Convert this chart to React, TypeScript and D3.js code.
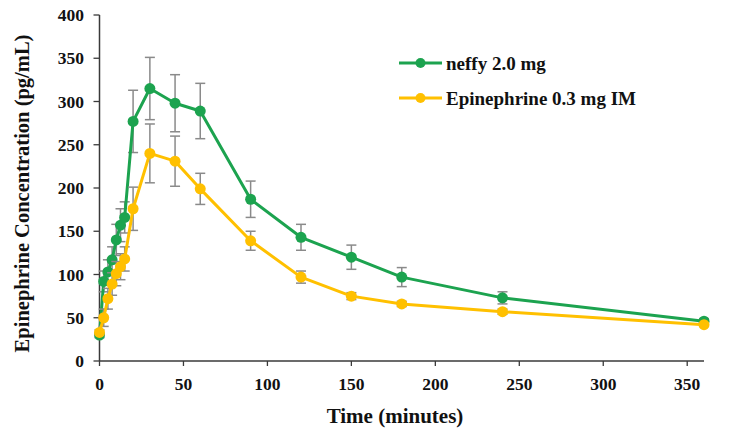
import React from "react";
import * as d3 from "d3";

// Sampling times (minutes)
const times = [0, 2.5, 5, 7.5, 10, 12.5, 15, 20, 30, 45, 60, 90, 120, 150, 180, 240, 360];
// neffy 2.0 mg: mean concentration and error (pg/mL)
const neffyMean = [30, 92, 103, 117, 140, 157, 166, 277, 315, 298, 289, 187, 143, 120, 97, 73, 46];
const neffyErr = [3, 12, 14, 15, 18, 19, 18, 36, 36, 33, 32, 21, 15, 14, 11, 7, 3];
// Epinephrine 0.3 mg IM: mean concentration and error (pg/mL)
const imMean = [33, 50, 72, 89, 101, 109, 118, 176, 240, 231, 199, 139, 97, 75, 66, 57, 42];
const imErr = [3, 10, 12, 13, 14, 15, 14, 25, 34, 29, 18, 11, 7, 4, 3, 3, 2];

const xTicks = [0, 50, 100, 150, 200, 250, 300, 350];
const yTicks = [0, 50, 100, 150, 200, 250, 300, 350, 400];

const seriesNames = ["neffy 2.0 mg", "Epinephrine 0.3 mg IM"];
const seriesColors = ["#1ca34f", "#ffc000"];

const W = 729;
const H = 429;
const FONT = "'Liberation Serif', 'Times New Roman', serif";

export default function App() {
  const x = d3.scaleLinear().domain([0, 360]).range([99.5, 704]);
  const y = d3.scaleLinear().domain([0, 400]).range([361, 15]);

  const series = [
    { name: seriesNames[0], color: seriesColors[0], mean: neffyMean, err: neffyErr },
    { name: seriesNames[1], color: seriesColors[1], mean: imMean, err: imErr },
  ];

  const line = d3
    .line<number>()
    .x((_, i) => x(times[i]))
    .y((d) => y(d));

  const axisColor = "#3a3a3a";
  const errColor = "#8a8a8a";
  const cap = 5;

  return (
    <div style={{ position: "fixed", left: 0, top: 0 }}>
      <svg width={W} height={H} style={{ display: "block", background: "#fff" }}>
        {/* y axis */}
        <line x1={x(0)} x2={x(0)} y1={y(400)} y2={y(0)} stroke={axisColor} strokeWidth={1.5} />
        {yTicks.map((t) => (
          <g key={"y" + t}>
            <line x1={x(0) - 6} x2={x(0)} y1={y(t)} y2={y(t)} stroke={axisColor} strokeWidth={1.3} />
            <text
              x={84}
              y={y(t)}
              dy="0.35em"
              textAnchor="end"
              fontFamily={FONT}
              fontWeight="bold"
              fontSize={17.5}
              fill="#111"
            >
              {t}
            </text>
          </g>
        ))}
        {/* x axis */}
        <line x1={x(0)} x2={x(360)} y1={y(0)} y2={y(0)} stroke={axisColor} strokeWidth={1.5} />
        {xTicks.map((t) => (
          <g key={"x" + t}>
            <line x1={x(t)} x2={x(t)} y1={y(0)} y2={y(0) + 5} stroke={axisColor} strokeWidth={1.3} />
            <text
              x={x(t)}
              y={390}
              textAnchor="middle"
              fontFamily={FONT}
              fontWeight="bold"
              fontSize={17.5}
              fill="#111"
            >
              {t}
            </text>
          </g>
        ))}
        <text
          x={395}
          y={423}
          textAnchor="middle"
          fontFamily={FONT}
          fontWeight="bold"
          fontSize={21}
          fill="#111"
        >
          Time (minutes)
        </text>
        <text
          transform={`translate(29, 193.5) rotate(-90)`}
          textAnchor="middle"
          fontFamily={FONT}
          fontWeight="bold"
          fontSize={20.5}
          fill="#111"
        >
          Epinephrine Concentration (pg/mL)
        </text>

        {series.map((s) => (
          <g key={s.name}>
            {/* error bars */}
            {s.mean.map((m, i) => {
              const cx = x(times[i]);
              const top = y(m + s.err[i]);
              const bot = y(m - s.err[i]);
              return (
                <g key={i} stroke={errColor} strokeWidth={1.5}>
                  <line x1={cx} x2={cx} y1={top} y2={bot} />
                  <line x1={cx - cap} x2={cx + cap} y1={top} y2={top} />
                  <line x1={cx - cap} x2={cx + cap} y1={bot} y2={bot} />
                </g>
              );
            })}
            <path d={line(s.mean) || ""} fill="none" stroke={s.color} strokeWidth={3} strokeLinejoin="round" />
            {s.mean.map((m, i) => (
              <circle key={i} cx={x(times[i])} cy={y(m)} r={5.5} fill={s.color} />
            ))}
          </g>
        ))}

        {/* legend */}
        {series.map((s, i) => {
          const ly = 63 + i * 35;
          return (
            <g key={"lg" + i}>
              <line x1={399} x2={442} y1={ly} y2={ly} stroke={s.color} strokeWidth={3} />
              <circle cx={420.5} cy={ly} r={5} fill={s.color} />
              <text
                x={446}
                y={ly + 6.5}
                fontFamily={FONT}
                fontWeight="bold"
                fontSize={19}
                fill="#111"
              >
                {s.name}
              </text>
            </g>
          );
        })}
      </svg>
    </div>
  );
}
